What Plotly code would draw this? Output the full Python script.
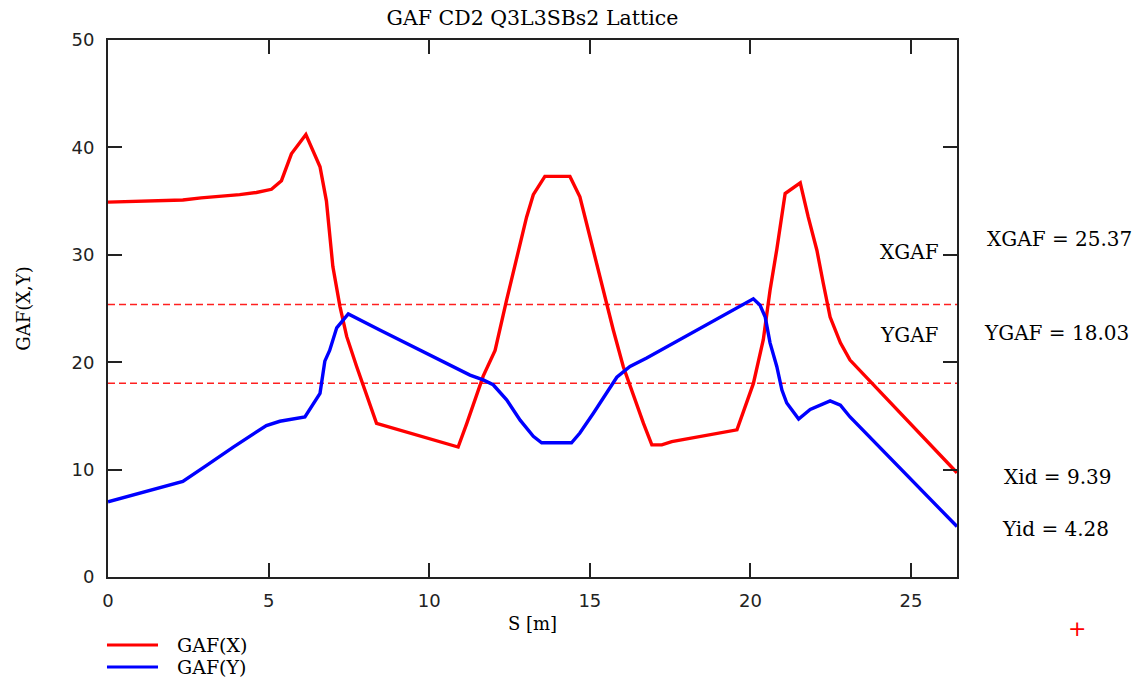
import plotly.graph_objects as go

# ---- data ----
s_x = [0.0, 1.2, 2.33, 2.9, 3.53, 4.1, 4.62, 5.09, 5.4, 5.71, 6.16, 6.6, 6.8, 7.0,
       7.22, 7.43, 7.74, 8.36, 10.9, 11.17, 11.68, 12.05, 12.41, 12.72, 13.03, 13.24,
       13.6, 14.38, 14.69, 14.85, 15.11, 15.42, 15.73, 16.04, 16.36, 16.67, 16.93,
       17.24, 17.55, 19.58, 20.09, 20.4, 20.61, 20.82, 21.08, 21.55, 21.8, 22.07,
       22.27, 22.48, 22.8, 23.1, 26.43]
gaf_x = [34.9, 35.0, 35.1, 35.3, 35.45, 35.6, 35.8, 36.1, 36.9, 39.4, 41.2, 38.2, 35.0, 28.9,
         25.2, 22.4, 19.6, 14.3, 12.1, 14.3, 18.7, 21.1, 25.8, 29.5, 33.5, 35.6,
         37.3, 37.3, 35.4, 33.5, 30.4, 26.4, 23.0, 19.6, 16.8, 14.3, 12.3,
         12.3, 12.6, 13.7, 18.0, 22.1, 26.7, 30.5, 35.7, 36.7, 33.5, 30.4,
         27.3, 24.2, 21.8, 20.2, 9.7]

s_y = [0.0, 2.33, 3.07, 3.9, 4.93, 5.35, 6.13, 6.34, 6.6, 6.75, 6.9, 7.12, 7.48, 8.46,
       11.27, 11.68, 11.99, 12.41, 12.83, 13.24, 13.5, 14.43, 14.69, 15.11, 15.53,
       15.84, 16.25, 16.77, 20.09, 20.3, 20.46, 20.61, 20.82, 20.98, 21.13, 21.5,
       21.86, 22.48, 22.8, 23.1, 26.43]
gaf_y = [7.0, 8.9, 10.4, 12.1, 14.1, 14.5, 14.9, 15.9, 17.1, 20.1, 21.1, 23.2, 24.5, 23.0,
         18.8, 18.35, 17.9, 16.5, 14.6, 13.1, 12.5, 12.5, 13.4, 15.25, 17.1,
         18.6, 19.6, 20.4, 25.9, 25.3, 24.2, 21.8, 19.6, 17.4, 16.2, 14.7,
         15.6, 16.4, 16.0, 14.9, 4.7]

XGAF = 25.37
YGAF = 18.03
Xid = 9.39
Yid = 4.28
s_max = 26.43

x_ticks = [0, 5, 10, 15, 20, 25]
y_ticks = [0, 10, 20, 30, 40, 50]

legend_names = ["GAF(X)", "GAF(Y)"]
legend_colors = ["#ff0000", "#0000ff"]

serif = "DejaVu Serif, serif"
sans = "DejaVu Sans, sans-serif"

fig = go.Figure()
for val in (XGAF, YGAF):
    fig.add_trace(go.Scatter(x=[0, s_max], y=[val, val], mode="lines",
                             line=dict(color="#ff2020", width=1.5, dash="7px,4px"),
                             showlegend=False, hoverinfo="skip"))
fig.add_trace(go.Scatter(x=s_x, y=gaf_x, mode="lines", name=legend_names[0],
                         line=dict(color=legend_colors[0], width=3.4), showlegend=False))
fig.add_trace(go.Scatter(x=s_y, y=gaf_y, mode="lines", name=legend_names[1],
                         line=dict(color=legend_colors[1], width=3.4), showlegend=False))

axis_common = dict(showline=True, linecolor="#222222", linewidth=2, mirror="ticks",
                   ticks="inside", ticklen=14, tickwidth=2, tickcolor="#222222",
                   showgrid=False, zeroline=False, automargin=False,
                   tickfont=dict(family=sans, size=18, color="#222222"))

fig.update_xaxes(range=[0, s_max], tickvals=x_ticks, ticklabelstandoff=6,
                 title=dict(text="S [m]", font=dict(family=serif, size=18, color="black"),
                            standoff=8),
                 **axis_common)
fig.update_yaxes(range=[0, 50], tickvals=y_ticks, ticklabelstandoff=8,
                 title=dict(text="GAF(X,Y)", font=dict(family=serif, size=18, color="black"),
                            standoff=36),
                 **axis_common)

ann_font = dict(family=serif, size=20, color="black")
annotations = [
    dict(text="XGAF", x=0.981, y=30.3, xref="paper", yref="y", xanchor="right",
         yanchor="middle", showarrow=False, font=ann_font),
    dict(text="YGAF", x=0.981, y=22.5, xref="paper", yref="y", xanchor="right",
         yanchor="middle", showarrow=False, font=ann_font),
    dict(text=f"XGAF = {XGAF:.2f}", x=1.033, y=31.5, xref="paper", yref="y", xanchor="left",
         yanchor="middle", showarrow=False, font=ann_font),
    dict(text=f"YGAF = {YGAF:.2f}", x=1.030, y=22.7, xref="paper", yref="y", xanchor="left",
         yanchor="middle", showarrow=False, font=ann_font),
    dict(text=f"Xid = {Xid:.2f}", x=1.053, y=9.35, xref="paper", yref="y", xanchor="left",
         yanchor="middle", showarrow=False, font=ann_font),
    dict(text=f"Yid = {Yid:.2f}", x=1.051, y=4.5, xref="paper", yref="y", xanchor="left",
         yanchor="middle", showarrow=False, font=ann_font),
    dict(text="+", x=1.141, y=-0.095, xref="paper", yref="paper", xanchor="center",
         yanchor="middle", showarrow=False, font=dict(family=sans, size=22, color="#ff0000")),
]

# manual legend (line samples + labels) below the plot
shapes = []
leg_y = [-0.1266, -0.1676]
for name, col, yy in zip(legend_names, legend_colors, leg_y):
    shapes.append(dict(type="line", xref="paper", yref="paper", x0=-0.0012, x1=0.0589,
                       y0=yy, y1=yy, line=dict(color=col, width=3)))
    annotations.append(dict(text=name, x=0.0785, y=yy, xref="paper", yref="paper",
                            xanchor="left", yanchor="middle", showarrow=False,
                            font=dict(family=serif, size=19, color="black")))

fig.update_layout(
    width=1137, height=683, autosize=False,
    margin=dict(l=108, r=180, t=40, b=106),
    paper_bgcolor="white", plot_bgcolor="white",
    title=dict(text="GAF CD2 Q3L3SBs2 Lattice", x=0.5, xref="paper", xanchor="center",
               y=0.9736, yref="container", yanchor="middle",
               font=dict(family=serif, size=20.5, color="black")),
    showlegend=False,
    annotations=annotations,
    shapes=shapes,
)

fig.write_html("out.html")
